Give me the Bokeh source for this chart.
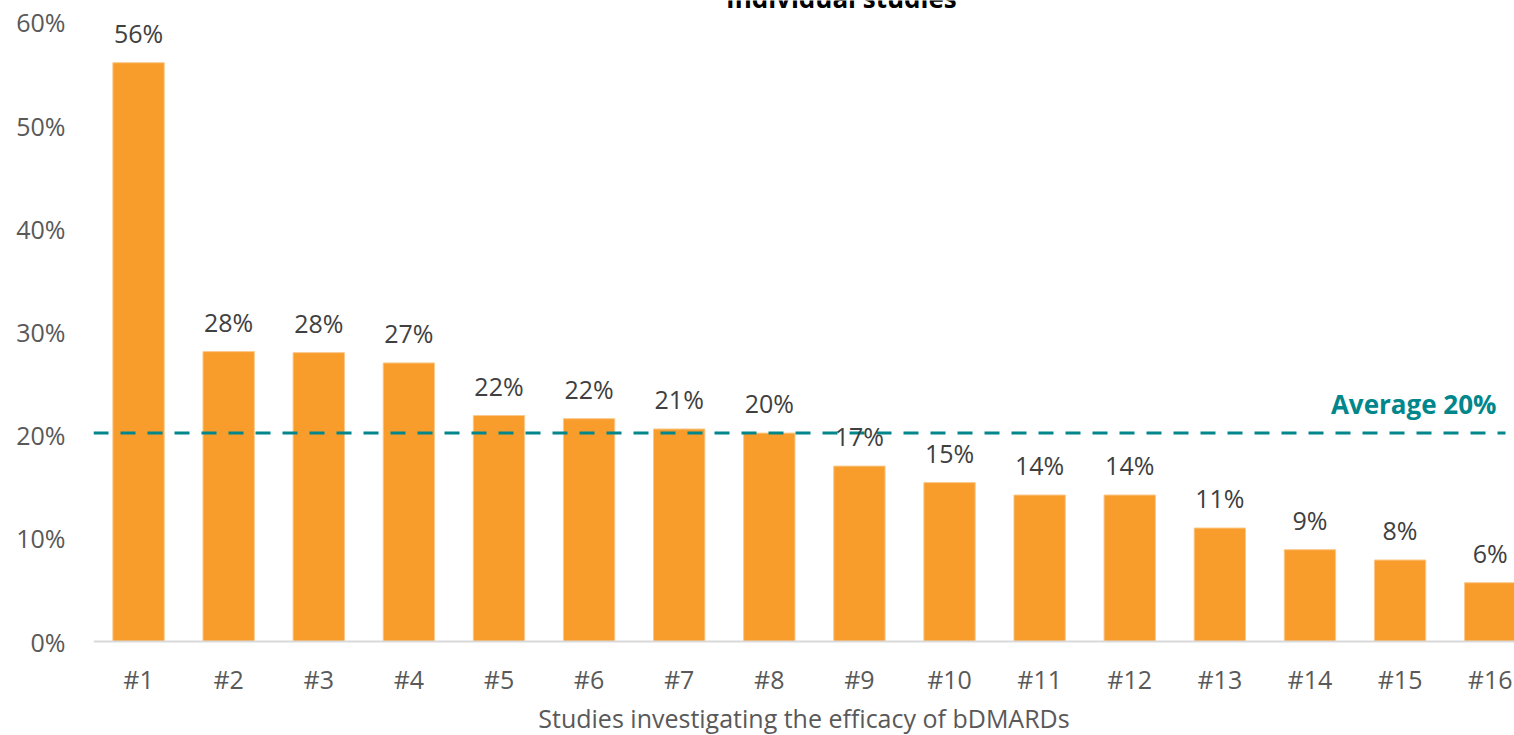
from bokeh.plotting import figure
from bokeh.models import (ColumnDataSource, Range1d, FixedTicker, PrintfTickFormatter,
                          LabelSet, Label)
from bokeh.core.properties import value
from bokeh.embed import file_html
from bokeh.resources import INLINE

studies = ["#1", "#2", "#3", "#4", "#5", "#6", "#7", "#8", "#9", "#10",
           "#11", "#12", "#13", "#14", "#15", "#16"]
values = [56.1, 28.1, 28.0, 27.0, 21.9, 21.6, 20.6, 20.2, 17.0, 15.4,
          14.2, 14.2, 11.0, 8.9, 7.9, 5.7]
average = 20.2
y_ticks = [0, 10, 20, 30, 40, 50, 60]
title_text = "Individual studies"
x_title = "Studies investigating the efficacy of bDMARDs"
avg_text = "Average 20%"

FONT = "Open Sans"
positions = list(range(1, len(studies) + 1))
labels = [f"{v:.0f}%" for v in values]
src = ColumnDataSource(dict(x=positions, top=values, lab=labels))

# frame covers the whole canvas height: 0% sits at y=641 px, 60% at y=22 px
p = figure(width=1514, height=735, output_backend="svg", toolbar_location=None,
           x_range=Range1d(0.5, 16.27), y_range=Range1d(-9.11, 62.13),
           min_border_left=93, min_border_right=0, min_border_top=0, min_border_bottom=0)
p.outline_line_color = None
p.background_fill_color = "white"
p.border_fill_color = "white"
p.xgrid.visible = False
p.ygrid.visible = False

p.vbar(x="x", top="top", bottom=0, width=0.57, source=src, fill_color="#F89C2B",
       line_color="#FBC98A", line_width=1)

# average dashed line
p.segment(x0=[0.5], y0=[average], x1=[16.17], y1=[average], line_color="#00868B",
          line_width=3, line_dash="15 12")

p.add_layout(LabelSet(x="x", y="top", text="lab", source=src, text_align="center",
                      text_baseline="middle", y_offset=30, text_font=value(FONT),
                      text_font_size="25px", text_color="#404040"))

p.add_layout(Label(x=16.07, y=average, text=avg_text, text_align="right",
                   text_baseline="middle", y_offset=29, text_font=FONT,
                   text_font_style="bold", text_font_size="26px", text_color="#00868B"))

p.add_layout(Label(x=8.8, y=61.45, text=title_text, text_align="center",
                   text_baseline="alphabetic", y_offset=10, text_font=FONT,
                   text_font_style="bold", text_font_size="26px", text_color="#000000"))

# x axis drawn at 0%
p.xaxis.fixed_location = 0
p.xaxis.ticker = FixedTicker(ticks=positions)
p.xaxis.major_label_overrides = {i: s for i, s in zip(positions, studies)}
p.xaxis.axis_line_color = "#D9D9D9"
p.xaxis.axis_line_width = 2
p.xaxis.major_tick_line_color = None
p.xaxis.minor_tick_line_color = None
p.xaxis.major_tick_out = 0
p.xaxis.minor_tick_out = 0
p.xaxis.major_label_standoff = 20
p.xaxis.major_label_text_font = FONT
p.xaxis.major_label_text_font_size = "25px"
p.xaxis.major_label_text_color = "#595959"
p.xaxis.axis_label = x_title
p.xaxis.axis_label_text_font = FONT
p.xaxis.axis_label_text_font_style = "normal"
p.xaxis.axis_label_text_font_size = "25px"
p.xaxis.axis_label_text_color = "#595959"
p.xaxis.axis_label_standoff = 2

# y axis
p.yaxis.ticker = FixedTicker(ticks=y_ticks)
p.yaxis.formatter = PrintfTickFormatter(format="%d%%")
p.yaxis.axis_line_color = None
p.yaxis.major_tick_line_color = None
p.yaxis.minor_tick_line_color = None
p.yaxis.major_tick_out = 0
p.yaxis.minor_tick_out = 0
p.yaxis.major_label_standoff = 28
p.yaxis.major_label_text_font = FONT
p.yaxis.major_label_text_font_size = "25px"
p.yaxis.major_label_text_color = "#595959"

open("out.html", "w").write(file_html(p, INLINE))
